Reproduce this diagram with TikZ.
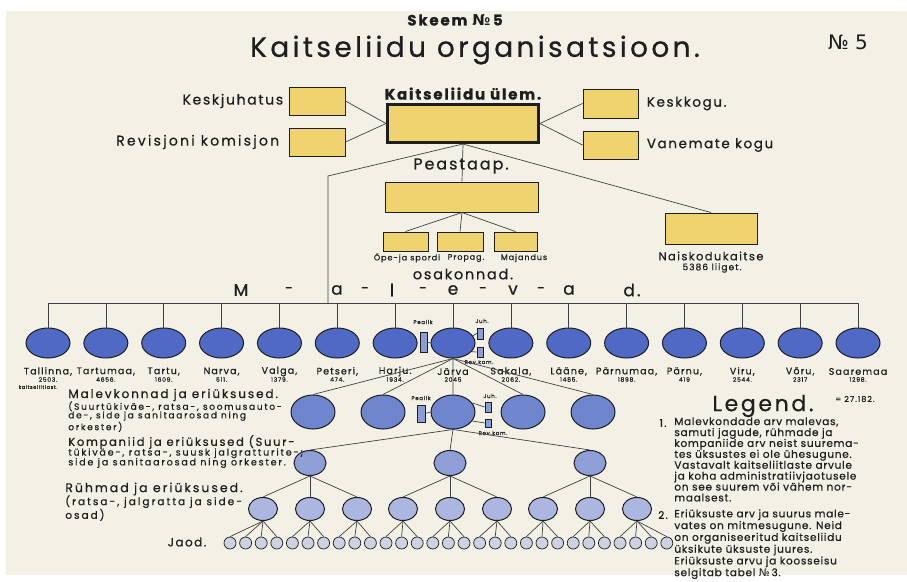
\documentclass[tikz,border=0pt]{standalone}
\usepackage{fontspec}
\setmainfont{Poppins}[LetterSpace=12,FakeBold=0.6]
\newfontfamily\numfont{DejaVu Sans}
\usetikzlibrary{positioning,shapes.geometric}

\definecolor{paper}{HTML}{F3F1E6}
\definecolor{ink}{HTML}{1E1E1E}
\definecolor{ochre}{HTML}{EFD36E}
\definecolor{malblue}{HTML}{4F69C4}
\definecolor{konblue}{HTML}{6F86CF}
\definecolor{kompblue}{HTML}{8E9FD8}
\definecolor{ryhmblue}{HTML}{ABB7E1}
\definecolor{jaogrey}{HTML}{CDD2E2}
\definecolor{satblue}{HTML}{8D9CD3}

\newcommand{\fs}[1]{\fontsize{#1}{#1}\selectfont}
\newcommand{\wide}[1]{\addfontfeature{LetterSpace=#1}}

\tikzset{
  every picture/.append style={line width=0.7pt},
}

\begin{document}
\begin{tikzpicture}[x=1pt,y=-1pt,
  link/.style ={draw=ink!85, line width=0.7pt},
  ybox/.style ={draw=ink, fill=ochre, line width=1pt, inner sep=0pt},
  sbox/.style ={draw=ink, fill=satblue, line width=0.7pt, inner sep=0pt},
  unit/.style ={ellipse, draw=ink, line width=1pt, inner sep=0pt},
  mal/.style  ={unit, fill=malblue, minimum width=44, minimum height=30},
  kon/.style  ={unit, fill=konblue, minimum width=44, minimum height=34},
  komp/.style ={unit, fill=kompblue, minimum width=32, minimum height=25},
  ryhm/.style ={unit, fill=ryhmblue, minimum width=29, minimum height=23},
  jagu/.style ={unit, fill=jaogrey, line width=0.7pt, minimum width=12, minimum height=12},
  txt/.style  ={inner sep=0pt, text=ink},
  mname/.style={txt, font=\fs{9.5}},
  mnum/.style ={txt, font=\fs{6}},
  tiny/.style ={txt, font=\fs{5.5}},
  para/.style ={txt, anchor=north west, align=left}
]

\clip (0,0) rectangle (907,581);
\fill[white] (0,0) rectangle (907,581);
\fill[paper] (6,11) rectangle (907,575);

% Title
\node[txt, font=\bfseries\fs{15}] (skeem) at (455,20) {Skeem {\numfont№}\,5};
\node[txt, font=\fs{28}] (title) at (475,50) {Kaitseliidu organisatsioon.};
\node[txt, font=\numfont\fs{20}] (nr) at (848,42) {№ 5};

% Leadership boxes
\node[ybox, line width=3pt, minimum width=151, minimum height=38] (ulem) at (463,123.5) {};
\node[txt, font=\bfseries\fs{15}, above=3pt of ulem] (ulemL) {Kaitseliidu ülem.};
\node[ybox, minimum width=56, minimum height=28] (keskjuh) at (317,101) {};
\node[ybox, minimum width=56, minimum height=28] (revkom) at (317,142) {};
\node[ybox, minimum width=55, minimum height=29] (keskkogu) at (610.5,103.5) {};
\node[ybox, minimum width=55, minimum height=28] (vankogu) at (610.5,145) {};
\node[txt, font=\fs{14}, left=5pt of keskjuh] (keskjuhL) {Keskjuhatus};
\node[txt, font=\fs{14}\wide{16}, left=9pt of revkom] (revkomL) {Revisjoni komisjon};
\node[txt, font=\fs{13.5}, right=8pt of keskkogu] (keskkoguL) {Keskkogu.};
\node[txt, font=\fs{13.5}, right=8pt of vankogu] (vankoguL) {Vanemate kogu};

\foreach \a in {keskjuh, revkom}{
  \draw[link] (\a.east) -- (ulem.west);
}
\foreach \b in {keskkogu, vankogu}{
  \draw[link] (ulem.east) -- (\b.west);
}

% Staff and departments
\node[ybox, minimum width=153, minimum height=30] (staap) at (462,197) {};
\draw[link] (ulem.south) -- (staap.north);
\node[txt, font=\fs{16}] (staapL) at (461,166) {Peastaap.};
\node[ybox, minimum width=45, minimum height=19] (ope) at (405.5,241.5) {};
\node[ybox, minimum width=46, minimum height=19] (propag) at (460,241.5) {};
\node[ybox, minimum width=43, minimum height=19] (majandus) at (515.5,241.5) {};
\foreach \d in {ope, propag, majandus}{
  \draw[link] (staap.south) -- (\d.north);
}
\node[txt, font=\fs{8}] (opeL) at (407,258) {Õpe-ja spordi};
\node[txt, font=\fs{8}] (propagL) at (466,258) {Propag.};
\node[txt, font=\fs{8}] (majandusL) at (524,258) {Majandus};
\node[txt, font=\fs{14.5}] (osakL) at (463,274) {osakonnad.};

% Women's auxiliary
\node[ybox, minimum width=92, minimum height=31] (naiskod) at (711,228.5) {};
\draw[link] (ulem.south) -- (naiskod.north);
\node[txt, font=\fs{11.5}] (naiskodL) at (711,256) {Naiskodukaitse};
\node[txt, font=\fs{9}] (naiskodN) at (712,268) {5386 liiget.};

% Malevad heading and bus
\foreach \c/\x [count=\i] in {M/241,a/337,l/392,e/453,v/513,a/569,d./632}{
  \node[txt, font=\fs{17}] (ml\i) at (\x,290) {\c};
}
\foreach \x [count=\i] in {289,365,423,483,541}{
  \node[txt, font=\fs{14}] (md\i) at (\x,290) {-};
}
\coordinate (bend) at (328,176);
\coordinate (bus) at (48,303);
\coordinate (busE) at (858,303);
\draw[link] (ulem.south) -- (bend) -- (bend |- bus);
\draw[link] (bus) -- (busE);

% Malevad
\foreach \n/\v [count=\i] in {{Tallinna,}/{2503.}, {Tartumaa,}/{4656.}, {Tartu,}/{1609.},
    {Narva,}/{511.}, {Valga,}/{1379.}, {Petseri,}/{474.}, {Harju.}/{1934.}, {Järva}/{2045},
    {Sakala,}/{2062.}, {Lääne,}/{1485.}, {Pärnumaa,}/{1898.}, {Pärnu,}/{419},
    {Viru,}/{2544.}, {Võru,}/{2317}, {Saaremaa}/{1298.}}{
  \node[mal] (m\i) at ({48+57.857*(\i-1)},343) {};
  \draw[link] (m\i.north) -- (m\i.north |- bus);
  \node[mname] (mn\i) at ([yshift=-13pt]m\i.south) {\n};
  \node[mnum] (mv\i) at ([yshift=-21pt]m\i.south) {\v};
}
\node[txt, font=\fs{5}] (kl) at (38,387) {kaitseliitlast.};
\node[txt, font=\fs{8}] (total) at (855,399) {= 27.182.};

% Jarva staff boxes
\node[sbox, minimum width=7, minimum height=20] (pea1) at (423.5,342) {};
\node[sbox, minimum width=6, minimum height=11] (juh1) at (480,333.5) {};
\node[sbox, minimum width=6, minimum height=10] (rk1) at (480,352) {};
\draw[link] (pea1.east) -- (m8.west);
\draw[link] (m8.20) -- (juh1.west);
\draw[link] (m8.-25) -- (rk1.west);
\node[tiny] (pea1L) at (423,322) {Pealik};
\node[tiny] (juh1L) at (482,321) {Juh.};
\node[tiny] (rk1L) at (479,362) {Rev.kom.};

% Malevkonnad
\foreach \x [count=\i] in {313,383,453,523,593}{
  \node[kon] (k\i) at (\x,412) {};
  \draw[link] (m8.south) -- (k\i.north);
}
\node[sbox, minimum width=8, minimum height=17] (pea2) at (421,413.5) {};
\node[sbox, minimum width=6, minimum height=10] (juh2) at (488,407) {};
\node[sbox, minimum width=6, minimum height=8] (rk2) at (488,423) {};
\draw[link] (pea2.east) -- (k3.west);
\draw[link] (k3.25) -- (juh2.west);
\draw[link] (k3.-25) -- (rk2.west);
\node[tiny] (pea2L) at (421,398) {Pealik};
\node[tiny] (juh2L) at (490,396) {Juh.};
\node[tiny] (rk2L) at (493,433) {Rev.kom.};

% Kompaniid, ruhmad, jaod
\foreach \x [count=\i] in {310,450,590}{
  \node[komp] (c\i) at (\x,463) {};
  \draw[link] (k3.south) -- (c\i.north);
}
\foreach \x/\p [count=\i] in {263/1,310/1,357/1,403/2,450/2,497/2,543/3,590/3,637/3}{
  \node[ryhm] (r\i) at (\x,509) {};
  \draw[link] (c\p.south) -- (r\i.north);
}
\foreach \p [count=\j from 0] in {1,1,1,1,2,2,2,3,3,3,4,4,4,5,5,5,6,6,6,7,7,7,8,8,8,9,9,9,9}{
  \node[jagu] (j\j) at ({230+15.6*\j},543) {};
  \draw[link] (r\p.south) -- (j\j.north);
}

% Level descriptions on the left
\node[txt, anchor=west, font=\fs{12}\wide{16}] (malkL) at (68,395) {Malevkonnad ja eriüksused.};
\node[para, font=\fontsize{9}{8.6}\selectfont\wide{19}] (malkT) at (68,401)
  {(Suurtükiväe-, ratsa-, soomusauto-\\de-, side ja sanitaarosad ning\\orkester)};
\node[txt, anchor=west, font=\fs{11.5}\wide{15}] (kompL) at (68,442) {Kompaniid ja eriüksused (Suur-};
\node[para, font=\fontsize{9.5}{9.8}\selectfont\wide{19}] (kompT) at (68,448)
  {tükiväe-, ratsa-, suusk jalgratturite-;\\side ja sanitaarosad ning orkester.};
\node[txt, anchor=west, font=\fs{12.5}\wide{16}] (ryhmL) at (65,489) {Rühmad ja eriüksused.};
\node[para, font=\fontsize{10.5}{10.2}\selectfont\wide{19}] (ryhmT) at (65,495)
  {(ratsa-, jalgratta ja side-\\osad)};
\node[txt, font=\fs{12}] (jaodL) at (187,542) {Jaod.};

% Legend
\node[txt, font=\fs{22}] (legend) at (763,406) {Legend.};
\node[txt, font=\fs{10.5}] (leg1N) at (663,423) {1.};
\node[para, font=\fontsize{10.5}{10.9}\selectfont\wide{7}] (leg1) at (674,417)
  {Malevkondade arv malevas,\\samuti jagude, rühmade ja\\kompaniide arv neist suurema-\\tes üksustes ei ole ühesugune.\\
   Vastavalt kaitseliitlaste arvule\\ja koha administratiivjaotusele\\on see suurem või vähem nor-\\maalsest.};
\node[txt, font=\fs{10.5}] (leg2N) at (663,515) {2.};
\node[para, font=\fontsize{10.5}{10.6}\selectfont\wide{7}] (leg2) at (674,509)
  {Eriüksuste arv ja suurus male-\\vates on mitmesugune. Neid\\on organiseeritud kaitseliidu\\üksikute üksuste juures.\\
   Eriüksuste arvu ja koosseisu\\selgitab tabel {\numfont№}\,3.};

\end{tikzpicture}
\end{document}
